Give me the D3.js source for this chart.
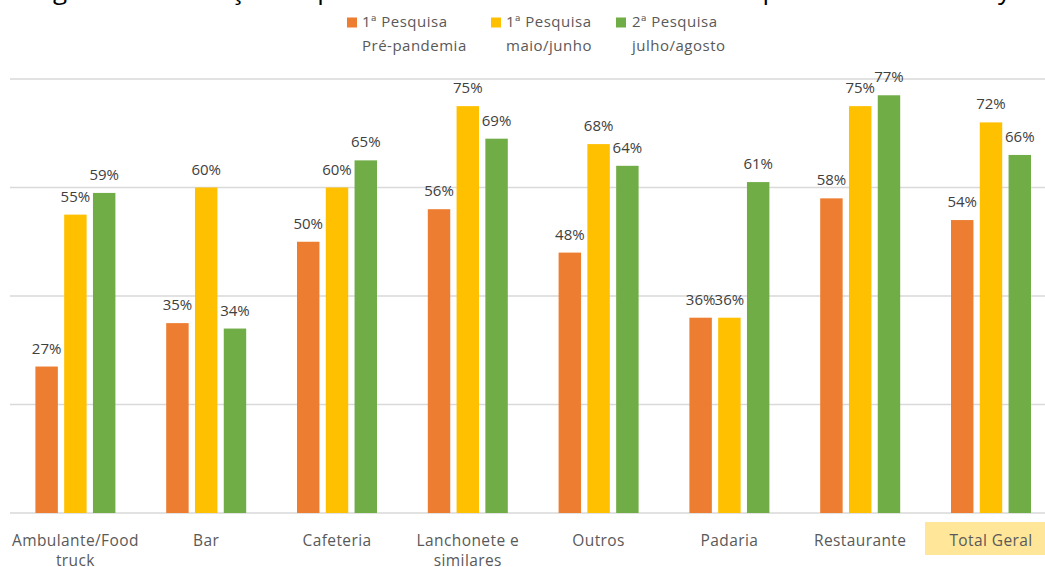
<!DOCTYPE html>
<html lang="pt-BR">
<head>
<meta charset="utf-8">
<script src="https://cdn.jsdelivr.net/npm/d3@7"></script>
<style>
  html, body { margin: 0; padding: 0; background: #ffffff; }
  svg { display: block; }
  text { font-family: "Open Sans", "Liberation Sans", sans-serif; }
</style>
</head>
<body>
<svg id="chart" width="1045" height="567"></svg>
<script>
// Categorias (rótulos em uma ou duas linhas)
const categories = [
  ["Ambulante/Food", "truck"],
  ["Bar"],
  ["Cafeteria"],
  ["Lanchonete e", "similares"],
  ["Outros"],
  ["Padaria"],
  ["Restaurante"],
  ["Total Geral"]
];

// Séries (percentuais)
const seriesNames = [
  ["1ª Pesquisa", "Pré-pandemia"],
  ["1ª Pesquisa", "maio/junho"],
  ["2ª Pesquisa", "julho/agosto"]
];
const prePandemia = [27, 35, 50, 56, 48, 36, 58, 54];
const maioJunho   = [55, 60, 60, 75, 68, 36, 75, 72];
const julhoAgosto = [59, 34, 65, 69, 64, 61, 77, 66];
const seriesValues = [prePandemia, maioJunho, julhoAgosto];
const seriesColors = ["#ED7D31", "#FFC000", "#70AD47"];

const gridTicks = [0, 20, 40, 60, 80];
const titleText = "Figura 9 – Utilização de plataformas on-line no atendimento por meio de delivery";

const svg = d3.select("#chart");
const W = 1045, H = 567;

// Área do gráfico
const plot = { left: 10, right: 1056.4, top: 79, bottom: 513 };

const catKeys = categories.map(c => c.join(" "));
const x = d3.scaleBand().domain(catKeys).range([plot.left, plot.right]).paddingInner(0).paddingOuter(0);
const y = d3.scaleLinear().domain([0, 80]).range([plot.bottom, plot.top]);
const groupWidth = 80;
const xs = d3.scaleBand().domain(d3.range(seriesValues.length)).range([-groupWidth / 2, groupWidth / 2]).paddingInner(0.22);

// Título (parcialmente acima da borda superior)
svg.append("text")
  .attr("x", 33).attr("y", -1)
  .attr("font-size", 26)
  .attr("fill", "#000")
  .text(titleText);

// Linhas de grade
svg.append("g").selectAll("line")
  .data(gridTicks)
  .join("line")
  .attr("x1", plot.left).attr("x2", W)
  .attr("y1", d => y(d)).attr("y2", d => y(d))
  .attr("stroke", "#d9d9d9")
  .attr("stroke-width", 1.5);

// Destaque do "Total Geral"
svg.append("rect")
  .attr("x", 925).attr("y", 522)
  .attr("width", W - 925).attr("height", 33)
  .attr("fill", "#FFE699");

// Barras e rótulos de valor
const groups = svg.append("g").selectAll("g")
  .data(catKeys)
  .join("g")
  .attr("transform", d => `translate(${x(d) + x.bandwidth() / 2},0)`);

groups.each(function (key, ci) {
  const g = d3.select(this);
  seriesValues.forEach((vals, si) => {
    const v = vals[ci];
    g.append("rect")
      .attr("x", xs(si))
      .attr("y", y(v))
      .attr("width", xs.bandwidth())
      .attr("height", y(0) - y(v))
      .attr("fill", seriesColors[si]);
    g.append("text")
      .attr("x", xs(si) + xs.bandwidth() / 2)
      .attr("y", y(v) - 13)
      .attr("text-anchor", "middle")
      .attr("font-size", 15)
      .attr("fill", "#404040")
      .text(v + "%");
  });
});

// Rótulos das categorias
const catLabels = svg.append("g").selectAll("text")
  .data(categories)
  .join("text")
  .attr("x", (d, i) => x(catKeys[i]) + x.bandwidth() / 2)
  .attr("y", 546)
  .attr("text-anchor", "middle")
  .attr("font-size", 15.5)
  .attr("letter-spacing", 0.4)
  .attr("fill", "#595959");
catLabels.selectAll("tspan")
  .data(d => d)
  .join("tspan")
  .attr("x", function () { return d3.select(this.parentNode).attr("x"); })
  .attr("dy", (d, i) => i === 0 ? 0 : 20)
  .text(d => d);

// Legenda
const legendSquareX = [347, 491, 616];
const legendTextX = [362, 506, 632];
const legend = svg.append("g");
seriesNames.forEach((lines, i) => {
  legend.append("rect")
    .attr("x", legendSquareX[i]).attr("y", 17.5)
    .attr("width", 10).attr("height", 10)
    .attr("fill", seriesColors[i]);
  lines.forEach((t, li) => {
    legend.append("text")
      .attr("x", legendTextX[i])
      .attr("y", 27 + li * 24)
      .attr("font-size", 15)
      .attr("letter-spacing", 0.5)
      .attr("fill", "#595959")
      .text(t);
  });
});
</script>
</body>
</html>
